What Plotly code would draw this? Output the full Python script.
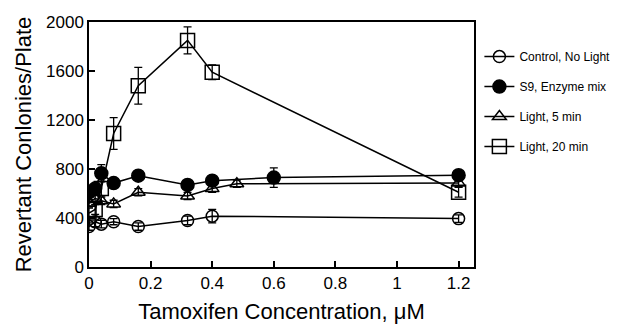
import plotly.graph_objects as go

# Data
ctrl_x = [0, 0.02, 0.04, 0.08, 0.16, 0.32, 0.40, 1.20]
ctrl_y = [330, 370, 350, 370, 330, 380, 415, 395]
ctrl_e = [30, 40, 30, 25, 30, 35, 55, 30]

s9_x = [0, 0.02, 0.04, 0.08, 0.16, 0.32, 0.40, 0.60, 1.20]
s9_y = [610, 640, 765, 685, 745, 670, 705, 730, 750]
s9_e = [30, 30, 70, 30, 30, 30, 30, 80, 30]

l5_x = [0, 0.02, 0.04, 0.08, 0.16, 0.32, 0.40, 0.48, 1.20]
l5_y = [520, 560, 540, 515, 610, 580, 640, 680, 685]
l5_e = [30, 30, 30, 30, 30, 30, 30, 30, 30]

l20_x = [0, 0.02, 0.04, 0.08, 0.16, 0.32, 0.40, 1.20]
l20_y = [440, 470, 640, 1090, 1480, 1850, 1590, 610]
l20_e = [40, 40, 60, 130, 150, 110, 60, 40]

names = ["Control, No Light", "S9, Enzyme mix", "Light, 5 min", "Light, 20 min"]
x_ticks = [0, 0.2, 0.4, 0.6, 0.8, 1, 1.2]
y_ticks = [0, 400, 800, 1200, 1600, 2000]

series = [
    (ctrl_x, ctrl_y, ctrl_e, "circle-open", 12),
    (s9_x, s9_y, s9_e, "circle", 13),
    (l5_x, l5_y, l5_e, "triangle-up-open", 12),
    (l20_x, l20_y, l20_e, "square-open", 14),
]

fig = go.Figure()
for i, ((xs, ys, es, sym, sz), nm) in enumerate(zip(series, names)):
    fig.add_trace(go.Scatter(
        x=xs, y=ys, name=nm, mode="lines+markers",
        legendgroup=f"g{i}",
        line=dict(color="black", width=1.5),
        marker=dict(symbol=sym, size=sz, color="black",
                    line=dict(color="black", width=1.5)),
        error_y=dict(type="data", array=es, visible=True,
                     color="black", thickness=1.3, width=4),
    ))

font = "Liberation Sans, Arial, sans-serif"
fig.update_layout(
    width=619, height=316,
    margin=dict(l=81, r=150, t=14, b=57),
    paper_bgcolor="white", plot_bgcolor="white",
    font=dict(family=font, color="black", size=17),
    showlegend=True,
    legend=dict(x=1.014, y=0.918, xanchor="left", yanchor="top",
                font=dict(size=12), traceorder="grouped",
                tracegroupgap=11, bgcolor="rgba(0,0,0,0)",
                borderwidth=0, itemwidth=30),
    xaxis=dict(range=[0, 1.25], tickvals=x_ticks,
               ticktext=[f"{v:g}" for v in x_ticks],
               ticks="inside", ticklen=6, tickwidth=1.5, tickcolor="black",
               showline=True, linecolor="black", linewidth=1.5, mirror=True,
               showgrid=False, zeroline=False, automargin=False,
               title=dict(text="Tamoxifen Concentration, \u03bcM",
                          font=dict(size=22), standoff=13)),
    yaxis=dict(range=[0, 2000], tickvals=y_ticks,
               ticks="inside", ticklen=6, tickwidth=1.5, tickcolor="black",
               showline=True, linecolor="black", linewidth=1.5, mirror=True,
               showgrid=False, zeroline=False, automargin=False,
               title=dict(text="Revertant Conlonies/Plate",
                          font=dict(size=22), standoff=8)),
)

fig.write_html("out.html")
